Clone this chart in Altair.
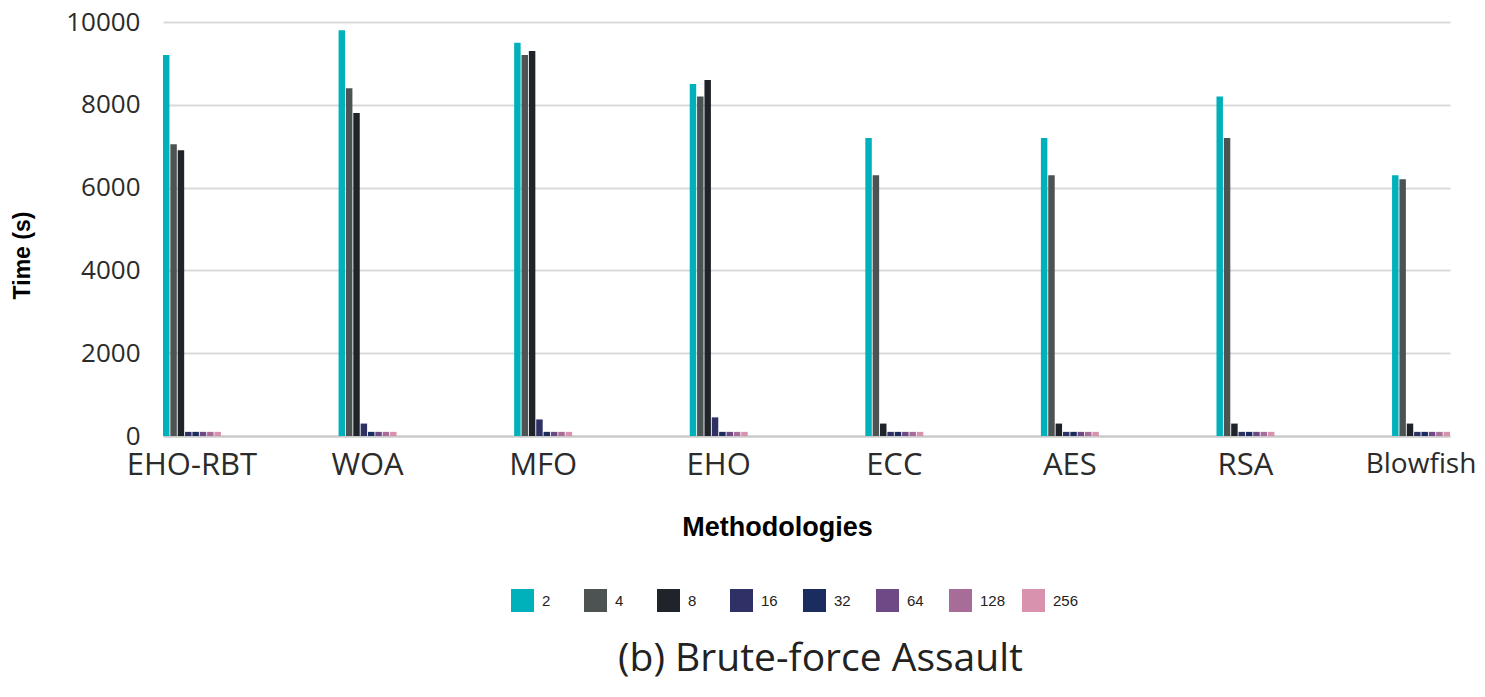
import altair as alt
import pandas as pd

categories = ["EHO-RBT", "WOA", "MFO", "EHO", "ECC", "AES", "RSA", "Blowfish"]
keys = ["2", "4", "8", "16", "32", "64", "128", "256"]
colors = ["#00b0ba", "#4d5352", "#1f232a", "#2e3066", "#1b2d5e", "#6d4a85", "#a86c98", "#d892ae"]

v2 = [9200, 9800, 9500, 8500, 7200, 7200, 8200, 6300]
v4 = [7050, 8400, 9200, 8200, 6300, 6300, 7200, 6200]
v8 = [6900, 7800, 9300, 8600, 300, 300, 300, 300]
v16 = [100, 300, 400, 450, 100, 100, 100, 100]
v32 = [100, 100, 100, 100, 100, 100, 100, 100]
v64 = [100, 100, 100, 100, 100, 100, 100, 100]
v128 = [100, 100, 100, 100, 100, 100, 100, 100]
v256 = [100, 100, 100, 100, 100, 100, 100, 100]

series = [v2, v4, v8, v16, v32, v64, v128, v256]
rows = []
for k, vals in zip(keys, series):
    for c, v in zip(categories, vals):
        rows.append({"Methodology": c, "Key": k, "Time": v})
df = pd.DataFrame(rows)

chart = alt.Chart(df).mark_bar().encode(
    x=alt.X("Methodology:N", sort=categories,
            scale=alt.Scale(paddingInner=0.67, paddingOuter=0),
            axis=alt.Axis(title="Methodologies", labelAngle=0, labelFont="Open Sans",
                          labelFontSize={"condition": {"test": "datum.value === 'Blowfish'", "value": 28},
                                         "value": 31},
                          labelColor="#2b2b2b", labelPadding=14,
                          ticks=False, domain=True, domainColor="#c8c8c8", domainWidth=2,
                          titleFont="Liberation Sans", titleFontSize=27, titleFontWeight="bold",
                          titleColor="#000000", titleX=614, titleY=91,
                          titleBaseline="middle", titleAlign="center", labelOverlap=False)),
    xOffset=alt.XOffset("Key:N", sort=keys, scale=alt.Scale(paddingInner=0.12)),
    y=alt.Y("Time:Q", scale=alt.Scale(domain=[0, 10000]),
            axis=alt.Axis(title="Time (s)", values=[0, 2000, 4000, 6000, 8000, 10000],
                          format="d",
                          labelFont="Open Sans", labelFontSize=26, labelColor="#2b2b2b",
                          labelPadding=23, ticks=False, domain=False,
                          gridColor="#d9d9d9", gridWidth=2,
                          titleFont="Liberation Sans", titleFontSize=23, titleFontWeight="bold",
                          titleColor="#000000", titleX=-141, titleY=233,
                          titleBaseline="middle", titleAlign="center", titleAngle=-90)),
    color=alt.Color("Key:N", sort=keys, scale=alt.Scale(domain=keys, range=colors),
                    legend=alt.Legend(title=None, orient="none", direction="horizontal",
                                      legendX=348, legendY=567, symbolType="square",
                                      symbolSize=529, symbolStrokeWidth=0, gridAlign="all",
                                      columnPadding=16, labelOffset=8,
                                      labelFont="Liberation Sans", labelFontSize=15,
                                      labelColor="#222222", columns=8)),
).properties(
    width=1287, height=414,
    title=alt.TitleParams("(b) Brute-force Assault", orient="bottom", font="Open Sans",
                          fontSize=39, fontWeight="normal", color="#222222", offset=28, dx=14),
    autosize=alt.AutoSizeParams(type="none"),
    padding={"left": 155, "top": 14, "right": 27, "bottom": 253},
).configure_view(stroke=None)

chart.save("out.html", embed_options={"renderer": "svg", "actions": False})
